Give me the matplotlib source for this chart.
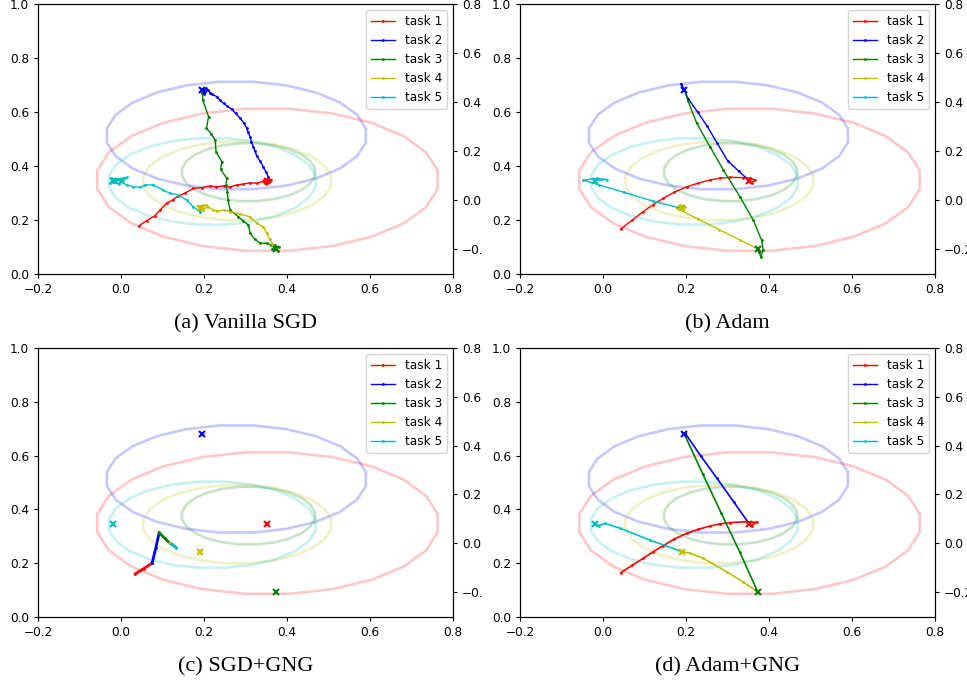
import numpy as np
import matplotlib
matplotlib.use('Agg')
import matplotlib.pyplot as plt
from matplotlib.transforms import Bbox, TransformedBbox

plt.rcParams['font.size'] = 8.7
plt.rcParams['xtick.major.size'] = 2.9
plt.rcParams['ytick.major.size'] = 2.9
plt.rcParams['xtick.major.pad'] = 3.3
plt.rcParams['ytick.major.pad'] = 3.5

# task colours and names
task_colors = ['r', 'b', 'g', 'y', 'c']
task_labels = ['task 1', 'task 2', 'task 3', 'task 4', 'task 5']

# task optima (the 'x' markers)
opt_x = [0.353, 0.196, 0.373, 0.190, -0.020]
opt_y = [0.345, 0.680, 0.093, 0.243, 0.346]

# loss contours: centre x, centre y, half width, half height
ell_cx = [0.353, 0.278, 0.307, 0.280, 0.220]
ell_cy = [0.349, 0.513, 0.377, 0.345, 0.343]
ell_a = [0.410, 0.312, 0.160, 0.226, 0.249]
ell_b = [0.263, 0.199, 0.107, 0.145, 0.160]

# (a) Vanilla SGD
sgd_task1 = [(0.044, 0.179), (0.062, 0.198), (0.082, 0.216), (0.095, 0.238), (0.110, 0.262),
             (0.125, 0.275), (0.138, 0.289), (0.155, 0.300), (0.174, 0.317), (0.195, 0.320),
             (0.214, 0.326), (0.230, 0.323), (0.247, 0.326), (0.262, 0.322), (0.279, 0.330),
             (0.295, 0.333), (0.311, 0.338), (0.328, 0.336), (0.343, 0.344), (0.352, 0.338),
             (0.348, 0.352), (0.358, 0.345), (0.350, 0.335), (0.362, 0.350), (0.345, 0.347),
             (0.353, 0.345)]
sgd_task2 = [(0.353, 0.345), (0.355, 0.360), (0.349, 0.378), (0.343, 0.397), (0.335, 0.418),
             (0.327, 0.437), (0.323, 0.455), (0.319, 0.471), (0.314, 0.490), (0.311, 0.509),
             (0.306, 0.525), (0.303, 0.540), (0.296, 0.560), (0.287, 0.577), (0.276, 0.595),
             (0.267, 0.610), (0.256, 0.622), (0.247, 0.632), (0.238, 0.645), (0.231, 0.657),
             (0.220, 0.665), (0.215, 0.672), (0.205, 0.688), (0.195, 0.672), (0.210, 0.682),
             (0.200, 0.665), (0.193, 0.686), (0.203, 0.675), (0.196, 0.680)]
sgd_task3 = [(0.196, 0.680), (0.197, 0.644), (0.211, 0.583), (0.206, 0.540), (0.218, 0.518),
             (0.227, 0.496), (0.229, 0.453), (0.243, 0.416), (0.240, 0.388), (0.255, 0.354),
             (0.253, 0.330), (0.256, 0.305), (0.258, 0.274), (0.263, 0.237), (0.283, 0.212),
             (0.295, 0.196), (0.307, 0.181), (0.311, 0.151), (0.322, 0.130), (0.335, 0.114),
             (0.351, 0.114), (0.362, 0.108), (0.371, 0.107), (0.365, 0.092), (0.378, 0.087),
             (0.368, 0.104), (0.380, 0.100), (0.373, 0.093)]
sgd_task4 = [(0.373, 0.093), (0.365, 0.112), (0.358, 0.130), (0.351, 0.151), (0.343, 0.175),
             (0.327, 0.188), (0.311, 0.212), (0.287, 0.222), (0.263, 0.231), (0.247, 0.237),
             (0.232, 0.233), (0.222, 0.237), (0.210, 0.250), (0.198, 0.238), (0.186, 0.252),
             (0.204, 0.256), (0.190, 0.228), (0.195, 0.250), (0.190, 0.243)]
sgd_task5 = [(0.190, 0.243), (0.190, 0.231), (0.174, 0.249), (0.158, 0.274), (0.138, 0.293),
             (0.118, 0.299), (0.102, 0.311), (0.078, 0.330), (0.058, 0.330), (0.046, 0.321),
             (0.030, 0.323), (0.014, 0.330), (-0.002, 0.342), (0.010, 0.355), (-0.015, 0.340),
             (-0.025, 0.356), (0.005, 0.345), (-0.010, 0.352), (0.015, 0.358), (-0.027, 0.338),
             (-0.005, 0.334), (-0.020, 0.346)]

# (b) Adam
adam_task1 = [(0.043, 0.167), (0.070, 0.199), (0.097, 0.231), (0.120, 0.256), (0.145, 0.280),
              (0.172, 0.303), (0.202, 0.323), (0.230, 0.337), (0.258, 0.348), (0.282, 0.355),
              (0.306, 0.358), (0.338, 0.357), (0.355, 0.355), (0.366, 0.348), (0.358, 0.338),
              (0.353, 0.345)]
adam_task2 = [(0.353, 0.345), (0.327, 0.381), (0.300, 0.420), (0.275, 0.485), (0.250, 0.550),
              (0.228, 0.600), (0.205, 0.650), (0.195, 0.685), (0.188, 0.705), (0.192, 0.690),
              (0.196, 0.680)]
adam_task3 = [(0.196, 0.680), (0.205, 0.640), (0.226, 0.558), (0.258, 0.471), (0.290, 0.385),
              (0.330, 0.286), (0.362, 0.200), (0.382, 0.126), (0.386, 0.089), (0.380, 0.064),
              (0.376, 0.082), (0.373, 0.093)]
adam_task4 = [(0.373, 0.093), (0.330, 0.126), (0.280, 0.164), (0.230, 0.203), (0.178, 0.243),
              (0.186, 0.256), (0.198, 0.249), (0.190, 0.243)]
adam_task5 = [(0.190, 0.243), (0.120, 0.270), (0.050, 0.303), (-0.010, 0.330), (-0.047, 0.348),
              (-0.015, 0.354), (0.009, 0.350), (-0.020, 0.346)]

# (c) SGD+GNG
sgdgng_task1 = [(0.034, 0.160), (0.055, 0.180), (0.075, 0.200)]
sgdgng_task2 = [(0.075, 0.200), (0.084, 0.258), (0.092, 0.313)]
sgdgng_task3 = [(0.092, 0.313), (0.105, 0.293), (0.118, 0.274)]
sgdgng_task4 = [(0.118, 0.274), (0.120, 0.272), (0.122, 0.270)]
sgdgng_task5 = [(0.122, 0.270), (0.128, 0.264), (0.133, 0.258)]

# (d) Adam+GNG
adamgng_task1 = [(0.043, 0.165), (0.070, 0.192), (0.097, 0.218), (0.120, 0.242), (0.145, 0.265),
                 (0.172, 0.290), (0.202, 0.311), (0.230, 0.326), (0.258, 0.338), (0.282, 0.346),
                 (0.306, 0.351), (0.346, 0.354), (0.370, 0.352), (0.358, 0.340), (0.353, 0.345)]
adamgng_task2 = [(0.353, 0.345), (0.315, 0.428), (0.275, 0.515), (0.235, 0.600), (0.198, 0.683),
                 (0.196, 0.680)]
adamgng_task3 = [(0.196, 0.680), (0.240, 0.533), (0.285, 0.386), (0.330, 0.240), (0.373, 0.093)]
adamgng_task4 = [(0.373, 0.093), (0.337, 0.131), (0.298, 0.168), (0.242, 0.218), (0.210, 0.237),
                 (0.190, 0.243)]
adamgng_task5 = [(0.190, 0.243), (0.113, 0.286), (0.041, 0.330), (0.005, 0.348), (-0.010, 0.340),
                 (-0.020, 0.346)]

panels = [
    ('(a) Vanilla SGD', [sgd_task1, sgd_task2, sgd_task3, sgd_task4, sgd_task5]),
    ('(b) Adam', [adam_task1, adam_task2, adam_task3, adam_task4, adam_task5]),
    ('(c) SGD+GNG', [sgdgng_task1, sgdgng_task2, sgdgng_task3, sgdgng_task4, sgdgng_task5]),
    ('(d) Adam+GNG', [adamgng_task1, adamgng_task2, adamgng_task3, adamgng_task4, adamgng_task5]),
]

W, H = 967, 684
fig = plt.figure(figsize=(W / 100, H / 100), dpi=100)

# axes boxes in pixels: left, top, right, bottom
boxes = [(38, 4, 453, 274), (520, 4, 935, 274), (38, 348, 453, 617), (520, 348, 935, 617)]
caption_y = [324, 324, 667, 667]
path_lw = [1.0, 1.0, 2.0, 1.2]

for i, (title, tasks) in enumerate(panels):
    l, t, r, b = boxes[i]
    ax = fig.add_axes([l / W, 1 - b / H, (r - l) / W, (b - t) / H])

    # contours
    ang = (np.arange(25) + 0.5) * 2 * np.pi / 24
    for k in range(5):
        ax.plot(ell_cx[k] + ell_a[k] / np.cos(np.pi / 24) * np.cos(ang),
                ell_cy[k] + ell_b[k] / np.cos(np.pi / 24) * np.sin(ang),
                color=task_colors[k], alpha=0.22, lw=1.9)

    # trajectories
    for k, path in enumerate(tasks):
        px, py = zip(*path)
        ax.plot(px, py, color=task_colors[k], lw=path_lw[i], marker='.', markersize=2,
                label=task_labels[k])
    for k in range(5):
        ax.plot(opt_x[k], opt_y[k], marker='x', color=task_colors[k], markersize=5,
                mew=1.5, ls='none')

    ax.set_xlim(-0.2, 0.8)
    ax.set_ylim(0, 1)
    ax.set_xticks(np.arange(-0.2, 0.81, 0.2))
    ax.set_yticks(np.arange(0, 1.01, 0.2))
    leg = ax.legend(loc='upper right')
    for line in leg.get_lines():
        line.set_linewidth(1.0)

    ax2 = ax.twinx()
    ax2.set_ylim(-0.302, 0.8)
    ax2.set_yticks(np.arange(-0.2, 0.81, 0.2))
    clip = TransformedBbox(Bbox.from_extents(0, 0, (482 if i % 2 == 0 else W) / W, 1),
                           fig.transFigure)
    for lbl in ax2.get_yticklabels():
        lbl.set_clip_box(clip)
        lbl.set_clip_on(True)

    fig.text((l + r) / 2 / W, 1 - caption_y[i] / H, title, ha='center', va='center',
             family='Liberation Serif', fontsize=16)

fig.savefig('out.png', dpi=100)
